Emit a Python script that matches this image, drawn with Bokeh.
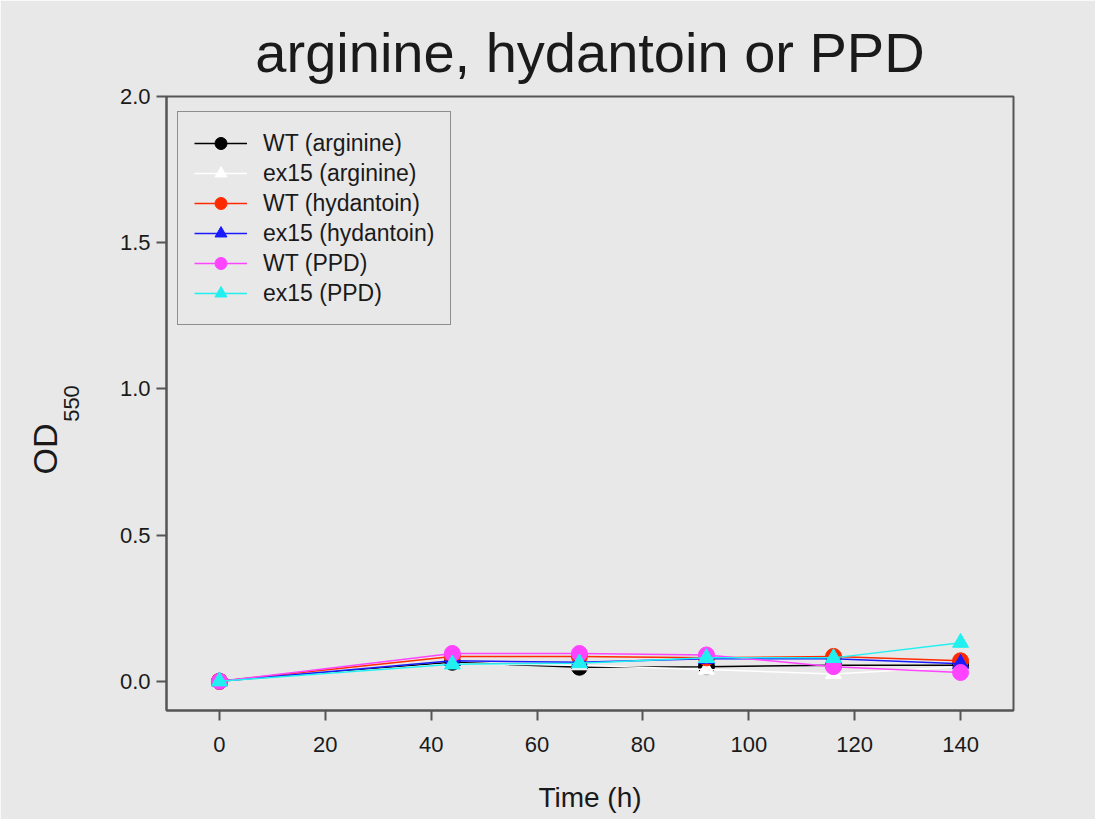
from bokeh.plotting import figure
from bokeh.models import Range1d, FixedTicker, NumeralTickFormatter, Legend, LegendItem, Title
from bokeh.embed import file_html
from bokeh.resources import INLINE

# ---- data ----
time_h = [0, 44, 68, 92, 116, 140]
wt_arginine = [0.0, 0.065, 0.048, 0.05, 0.055, 0.055]
ex15_arginine = [0.0, 0.06, 0.055, 0.04, 0.025, 0.05]
wt_hydantoin = [0.0, 0.085, 0.085, 0.08, 0.085, 0.07]
ex15_hydantoin = [0.0, 0.07, 0.065, 0.077, 0.077, 0.06]
wt_ppd = [0.0, 0.095, 0.095, 0.09, 0.05, 0.03]
ex15_ppd = [0.0, 0.058, 0.062, 0.08, 0.08, 0.132]

series_names = ["WT (arginine)", "ex15 (arginine)", "WT (hydantoin)",
                "ex15 (hydantoin)", "WT (PPD)", "ex15 (PPD)"]
series_values = [wt_arginine, ex15_arginine, wt_hydantoin, ex15_hydantoin, wt_ppd, ex15_ppd]
series_markers = ["circle", "triangle", "circle", "triangle", "circle", "triangle"]
series_colors = ["#000000", "#ffffff", "#ff2a00", "#1a1aff", "#ff44ff", "#22f0f0"]

x_ticks = [0, 20, 40, 60, 80, 100, 120, 140]
y_ticks = [0.0, 0.5, 1.0, 1.5, 2.0]

FONT = "Liberation Sans"
BG = "#e8e8e8"
TXT = "#1a1a1a"
AX = "#555555"

W, H = 1095, 819
FL, FR, FT, FB = 166, 1013, 96, 710  # frame edges in canvas px
X0, X1 = -10, 150
Y0, Y1 = -0.1, 2.0

p = figure(width=W, height=H, output_backend="svg", toolbar_location=None,
           x_range=Range1d(X0, X1), y_range=Range1d(Y0, Y1),
           min_border_left=FL, min_border_right=W - FR,
           min_border_top=FT, min_border_bottom=H - FB,
           background_fill_color=BG, border_fill_color=BG,
           title="arginine, hydantoin or PPD")

p.title.text_font = FONT
p.title.text_font_size = "56px"
p.title.text_font_style = "normal"
p.title.text_color = TXT
p.title.align = "center"
p.title.standoff = 25

p.grid.visible = False
p.outline_line_color = AX
p.outline_line_width = 2

for ax in (p.xaxis[0], p.yaxis[0]):
    ax.axis_line_color = AX
    ax.axis_line_width = 2
    ax.major_tick_line_color = AX
    ax.major_tick_line_width = 2
    ax.major_tick_out = 10
    ax.major_tick_in = 0
    ax.minor_tick_line_color = None
    ax.major_label_text_font = FONT
    ax.major_label_text_font_size = "22px"
    ax.major_label_text_color = TXT

p.xaxis.ticker = FixedTicker(ticks=x_ticks)
p.yaxis.ticker = FixedTicker(ticks=y_ticks)
p.yaxis.formatter = NumeralTickFormatter(format="0.0")
p.xaxis.major_label_standoff = 16
p.yaxis.major_label_standoff = 6

p.xaxis.axis_label = "Time (h)"
p.xaxis.axis_label_text_font = FONT
p.xaxis.axis_label_text_font_size = "28px"
p.xaxis.axis_label_text_font_style = "normal"
p.xaxis.axis_label_text_color = TXT
p.xaxis.axis_label_standoff = 27

# y axis label: subscript "550" as the axis label, "OD" as a vertical title outside it
p.yaxis.axis_label = "550"
p.yaxis.axis_label_text_font = FONT
p.yaxis.axis_label_text_font_size = "22px"
p.yaxis.axis_label_text_font_style = "normal"
p.yaxis.axis_label_text_color = TXT
p.yaxis.axis_label_standoff = 38

items = []
for name, vals, mk, col in zip(series_names, series_values, series_markers, series_colors):
    r1 = p.line(time_h, vals, line_color=col, line_width=1.5)
    r2 = p.scatter(time_h, vals, marker=mk, size=16, fill_color=col, line_color=col)
    items.append(LegendItem(label=name, renderers=[r1, r2]))

fh = FB - FT
legend = Legend(items=items, location=(11, fh - 16 - 213),
                label_text_font=FONT, label_text_font_size="23px", label_text_color=TXT,
                glyph_width=53, glyph_height=30, label_height=30, spacing=0,
                padding=16, label_standoff=16, margin=0,
                background_fill_color=BG, background_fill_alpha=1.0,
                border_line_color="#333333", border_line_width=1.5)
p.add_layout(legend, "center")

od = Title(text="OD", align="left", offset=FB - 474, standoff=-7,
           text_font=FONT, text_font_size="34px", text_font_style="normal",
           text_color=TXT)
p.add_layout(od, "left")

open("out.html", "w").write(file_html(p, INLINE))
